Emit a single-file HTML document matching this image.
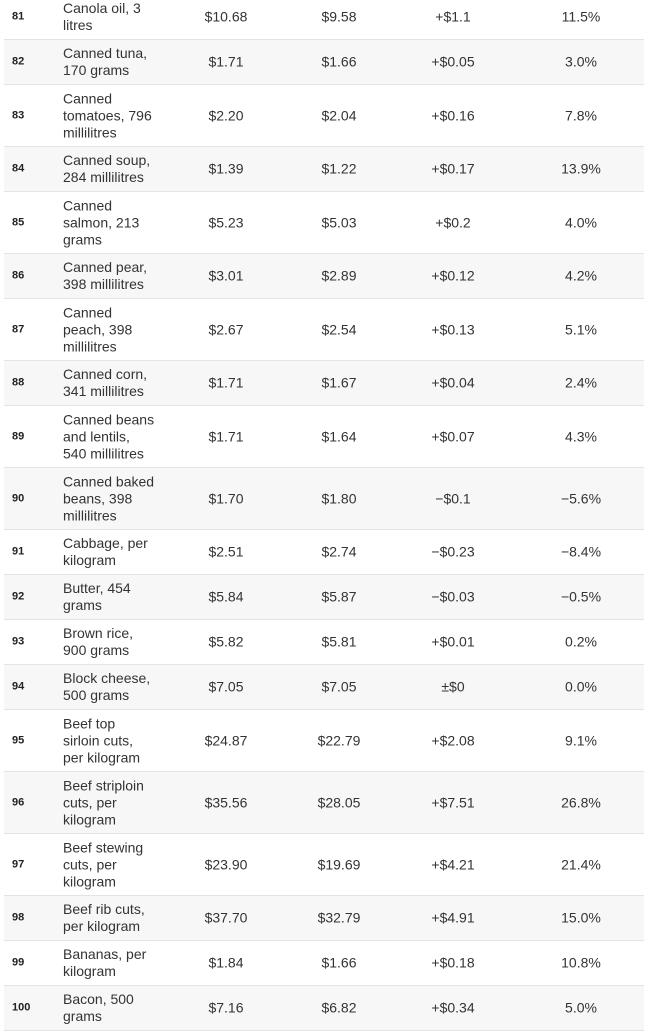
<!DOCTYPE html>
<html>
<head>
<meta charset="utf-8">
<style>
html,body{margin:0;padding:0;background:#fff;}
body{width:648px;height:1028px;overflow:hidden;position:relative;font-family:"Liberation Sans",Arial,sans-serif;color:#333;}
.r{position:absolute;left:4px;width:640px;box-sizing:border-box;border-bottom:1px solid #e4e4e4;}
.g{background:#f7f7f7;}
.c{position:absolute;top:50%;transform:translateY(-50%);font-size:14px;line-height:17px;white-space:nowrap;}
.k{left:8px;font-size:11px;font-weight:bold;color:#222;}
.n{left:59px;}
.p1,.p2,.p3,.p4{width:120px;text-align:center;}
.p1{left:162px;}
.p2{left:275px;}
.p3{left:389px;}
.p4{left:517px;}
</style>
</head>
<body>

<div class="r" style="top:-6px;height:46px;"><div class="c k">81</div><div class="c n">Canola oil, 3<br>litres</div><div class="c p1">$10.68</div><div class="c p2">$9.58</div><div class="c p3">+$1.1</div><div class="c p4">11.5%</div></div>

<div class="r g" style="top:40px;height:45px;"><div class="c k">82</div><div class="c n">Canned tuna,<br>170 grams</div><div class="c p1">$1.71</div><div class="c p2">$1.66</div><div class="c p3">+$0.05</div><div class="c p4">3.0%</div></div>

<div class="r" style="top:85px;height:62px;"><div class="c k">83</div><div class="c n">Canned<br>tomatoes, 796<br>millilitres</div><div class="c p1">$2.20</div><div class="c p2">$2.04</div><div class="c p3">+$0.16</div><div class="c p4">7.8%</div></div>

<div class="r g" style="top:147px;height:45px;"><div class="c k">84</div><div class="c n">Canned soup,<br>284 millilitres</div><div class="c p1">$1.39</div><div class="c p2">$1.22</div><div class="c p3">+$0.17</div><div class="c p4">13.9%</div></div>

<div class="r" style="top:192px;height:62px;"><div class="c k">85</div><div class="c n">Canned<br>salmon, 213<br>grams</div><div class="c p1">$5.23</div><div class="c p2">$5.03</div><div class="c p3">+$0.2</div><div class="c p4">4.0%</div></div>

<div class="r g" style="top:254px;height:45px;"><div class="c k">86</div><div class="c n">Canned pear,<br>398 millilitres</div><div class="c p1">$3.01</div><div class="c p2">$2.89</div><div class="c p3">+$0.12</div><div class="c p4">4.2%</div></div>

<div class="r" style="top:299px;height:62px;"><div class="c k">87</div><div class="c n">Canned<br>peach, 398<br>millilitres</div><div class="c p1">$2.67</div><div class="c p2">$2.54</div><div class="c p3">+$0.13</div><div class="c p4">5.1%</div></div>

<div class="r g" style="top:361px;height:45px;"><div class="c k">88</div><div class="c n">Canned corn,<br>341 millilitres</div><div class="c p1">$1.71</div><div class="c p2">$1.67</div><div class="c p3">+$0.04</div><div class="c p4">2.4%</div></div>

<div class="r" style="top:406px;height:62px;"><div class="c k">89</div><div class="c n">Canned beans<br>and lentils,<br>540 millilitres</div><div class="c p1">$1.71</div><div class="c p2">$1.64</div><div class="c p3">+$0.07</div><div class="c p4">4.3%</div></div>

<div class="r g" style="top:468px;height:62px;"><div class="c k">90</div><div class="c n">Canned baked<br>beans, 398<br>millilitres</div><div class="c p1">$1.70</div><div class="c p2">$1.80</div><div class="c p3">−$0.1</div><div class="c p4">−5.6%</div></div>

<div class="r" style="top:530px;height:45px;"><div class="c k">91</div><div class="c n">Cabbage, per<br>kilogram</div><div class="c p1">$2.51</div><div class="c p2">$2.74</div><div class="c p3">−$0.23</div><div class="c p4">−8.4%</div></div>

<div class="r g" style="top:575px;height:45px;"><div class="c k">92</div><div class="c n">Butter, 454<br>grams</div><div class="c p1">$5.84</div><div class="c p2">$5.87</div><div class="c p3">−$0.03</div><div class="c p4">−0.5%</div></div>

<div class="r" style="top:620px;height:45px;"><div class="c k">93</div><div class="c n">Brown rice,<br>900 grams</div><div class="c p1">$5.82</div><div class="c p2">$5.81</div><div class="c p3">+$0.01</div><div class="c p4">0.2%</div></div>

<div class="r g" style="top:665px;height:45px;"><div class="c k">94</div><div class="c n">Block cheese,<br>500 grams</div><div class="c p1">$7.05</div><div class="c p2">$7.05</div><div class="c p3">±$0</div><div class="c p4">0.0%</div></div>

<div class="r" style="top:710px;height:62px;"><div class="c k">95</div><div class="c n">Beef top<br>sirloin cuts,<br>per kilogram</div><div class="c p1">$24.87</div><div class="c p2">$22.79</div><div class="c p3">+$2.08</div><div class="c p4">9.1%</div></div>

<div class="r g" style="top:772px;height:62px;"><div class="c k">96</div><div class="c n">Beef striploin<br>cuts, per<br>kilogram</div><div class="c p1">$35.56</div><div class="c p2">$28.05</div><div class="c p3">+$7.51</div><div class="c p4">26.8%</div></div>

<div class="r" style="top:834px;height:62px;"><div class="c k">97</div><div class="c n">Beef stewing<br>cuts, per<br>kilogram</div><div class="c p1">$23.90</div><div class="c p2">$19.69</div><div class="c p3">+$4.21</div><div class="c p4">21.4%</div></div>

<div class="r g" style="top:896px;height:45px;"><div class="c k">98</div><div class="c n">Beef rib cuts,<br>per kilogram</div><div class="c p1">$37.70</div><div class="c p2">$32.79</div><div class="c p3">+$4.91</div><div class="c p4">15.0%</div></div>

<div class="r" style="top:941px;height:45px;"><div class="c k">99</div><div class="c n">Bananas, per<br>kilogram</div><div class="c p1">$1.84</div><div class="c p2">$1.66</div><div class="c p3">+$0.18</div><div class="c p4">10.8%</div></div>

<div class="r g" style="top:986px;height:45px;"><div class="c k">100</div><div class="c n">Bacon, 500<br>grams</div><div class="c p1">$7.16</div><div class="c p2">$6.82</div><div class="c p3">+$0.34</div><div class="c p4">5.0%</div></div>

</body>
</html>
